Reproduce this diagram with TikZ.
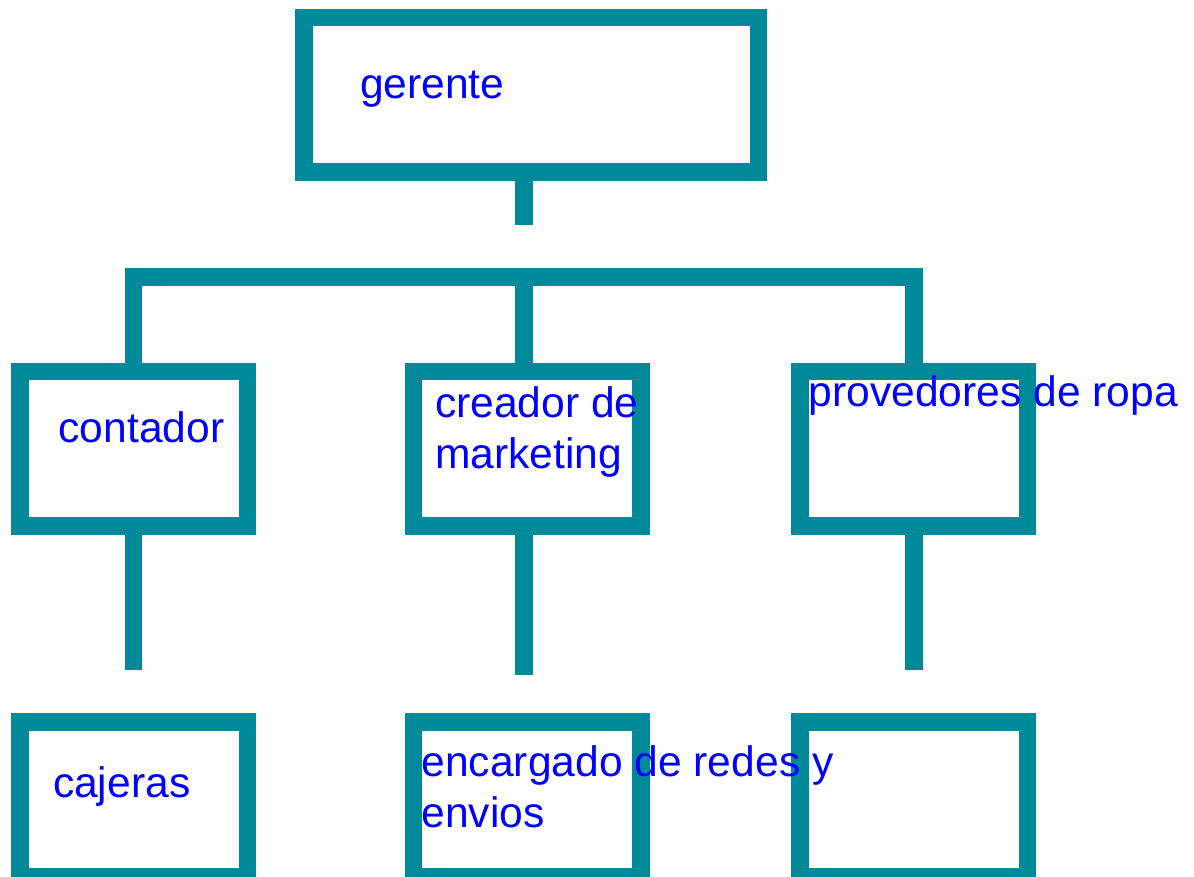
\documentclass[tikz,border=0pt]{standalone}
\usepackage{fontspec}
\setmainfont{Liberation Sans}
\definecolor{teal}{RGB}{0,138,153}
\definecolor{lbl}{RGB}{0,0,255}
\begin{document}
\begin{tikzpicture}[x=1pt,y=-1pt,
  box/.style={draw=teal,line width=17.5pt,rectangle,inner sep=0pt,outer sep=0pt,
    minimum width=227.5pt,minimum height=154.5pt},
  conn/.style={draw=teal,line width=17.5pt,line cap=butt,line join=miter},
  lab/.style={anchor=base west,inner sep=0pt,outer sep=0pt,text=lbl,align=left,
    font=\fontsize{42.6}{51}\selectfont}]
\useasboundingbox (0,0) rectangle (1194,877);
\clip (0,0) rectangle (1194,877);
\fill[white] (0,0) rectangle (1194,877);
% boxes
\node[box,minimum width=454.5pt] (gerente) at (531.3,95) {};
\node[box] (contador) at (133.8,448.5) {};
\node[box] (creador) at (527,448.5) {};
\node[box] (provedores) at (913.8,448.5) {};
\node[box] (cajeras) at (133.8,799) {};
\node[box] (encargado) at (527,799) {};
\node[box] (vacio) at (913.8,799) {};
% coordinates
\coordinate (gstem) at (524,225.3);
\coordinate (barL) at (133.6,277);
\coordinate (barM) at (524,277);
\coordinate (barR) at (914,277);
\coordinate (s1) at (133.6,669.7);
\coordinate (s2) at (524,675.3);
\coordinate (s3) at (914,669.7);
% connectors
\draw[conn] (gerente.south -| gstem) -- (gstem);
\draw[conn] (contador.north -| barL) -- (barL) -- (barR) -- (provedores.north -| barR);
\draw[conn] (barM) -- (creador.north -| barM);
\draw[conn] (contador.south -| s1) -- (s1);
\draw[conn] (creador.south -| s2) -- (s2);
\draw[conn] (provedores.south -| s3) -- (s3);
% labels (multi-line: base = last line)
\node[lab] (tg) at (360,99) {gerente};
\node[lab] (tc) at (58.5,442.7) {contador};
\node[lab] (tm) at (435,468.3) {creador de\\marketing};
\node[lab] (tp) at (808.5,406.7) {provedores de ropa};
\node[lab] (tj) at (53,797.3) {cajeras};
\node[lab] (te) at (421.5,827.3) {encargado de redes y\\envios};
\end{tikzpicture}
\end{document}
